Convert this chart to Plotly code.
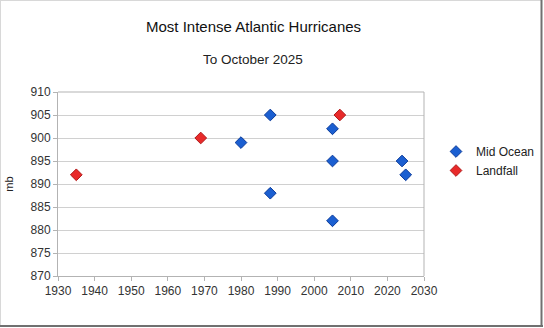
import plotly.graph_objects as go

# Central pressure (mb) by year
mid_ocean_years = [1980, 1988, 1988, 2005, 2005, 2005, 2024, 2025]
mid_ocean_mb = [899, 905, 888, 902, 895, 882, 895, 892]
landfall_years = [1935, 1969, 2007]
landfall_mb = [892, 900, 905]

x_ticks = list(range(1930, 2031, 10))
y_ticks = list(range(870, 911, 5))

W, H = 544, 328
L, R, T, B = 58, 120, 92, 52
pw, ph = W - L - R, H - T - B


def px(x):
    return (x - L) / pw


def py(y):
    return (H - B - y) / ph


fig = go.Figure()
fig.add_trace(go.Scatter(
    x=mid_ocean_years, y=mid_ocean_mb, mode="markers", name="Mid Ocean",
    marker=dict(symbol="diamond", size=9, color="#1b5fd1",
                line=dict(color="#0a3a9a", width=1)),
))
fig.add_trace(go.Scatter(
    x=landfall_years, y=landfall_mb, mode="markers", name="Landfall",
    marker=dict(symbol="diamond", size=9, color="#e82a2a",
                line=dict(color="#b01818", width=1)),
))

font = "Liberation Sans, Arial, sans-serif"
axis_common = dict(
    showline=True, linecolor="#b3b3b3", linewidth=1,
    ticks="outside", ticklen=4, tickcolor="#b3b3b3",
    tickfont=dict(family=font, size=12, color="#333333"),
    zeroline=False,
)

fig.update_layout(
    width=W, height=H,
    margin=dict(l=L, r=R, t=T, b=B, autoexpand=False),
    paper_bgcolor="white", plot_bgcolor="white",
    showlegend=True,
    legend=dict(x=px(436), y=py(137), xanchor="left", yanchor="top",
                font=dict(family=font, size=12, color="#222222"),
                itemwidth=30, tracegroupgap=0, bgcolor="rgba(0,0,0,0)"),
    xaxis=dict(range=[1930, 2030], tickvals=x_ticks, showgrid=False,
               mirror=False, **axis_common),
    yaxis=dict(range=[870, 910], tickvals=y_ticks, showgrid=True,
               gridcolor="#d0d0d0", gridwidth=1,
               title=dict(text="mb", font=dict(family=font, size=11, color="#222222"),
                          standoff=14),
               **axis_common),
    annotations=[
        dict(text="Most Intense Atlantic Hurricanes", x=px(253), y=py(26),
             xref="paper", yref="paper", showarrow=False,
             xanchor="center", yanchor="middle",
             font=dict(family=font, size=15, color="#111111")),
        dict(text="To October 2025", x=px(253), y=py(59),
             xref="paper", yref="paper", showarrow=False,
             xanchor="center", yanchor="middle",
             font=dict(family=font, size=13.5, color="#222222")),
    ],
    shapes=[
        # right border of plot area
        dict(type="line", xref="paper", yref="paper", x0=1, x1=1, y0=0, y1=1,
             line=dict(color="#b3b3b3", width=1)),
        # top gridline edge
        dict(type="line", xref="paper", yref="paper", x0=0, x1=1, y0=1, y1=1,
             line=dict(color="#b3b3b3", width=1)),
        # outer frame
        dict(type="line", xref="paper", yref="paper", x0=px(0.5), x1=px(0.5),
             y0=py(0), y1=py(326), line=dict(color="#d8d8d8", width=1)),
        dict(type="line", xref="paper", yref="paper", x0=px(0), x1=px(542),
             y0=py(0.5), y1=py(0.5), line=dict(color="#d8d8d8", width=1)),
        dict(type="line", xref="paper", yref="paper", x0=px(541.5), x1=px(541.5),
             y0=py(0), y1=py(327), line=dict(color="#707070", width=2)),
        dict(type="line", xref="paper", yref="paper", x0=px(0), x1=px(543),
             y0=py(326), y1=py(326), line=dict(color="#707070", width=2)),
    ],
)

fig.write_html("out.html")
